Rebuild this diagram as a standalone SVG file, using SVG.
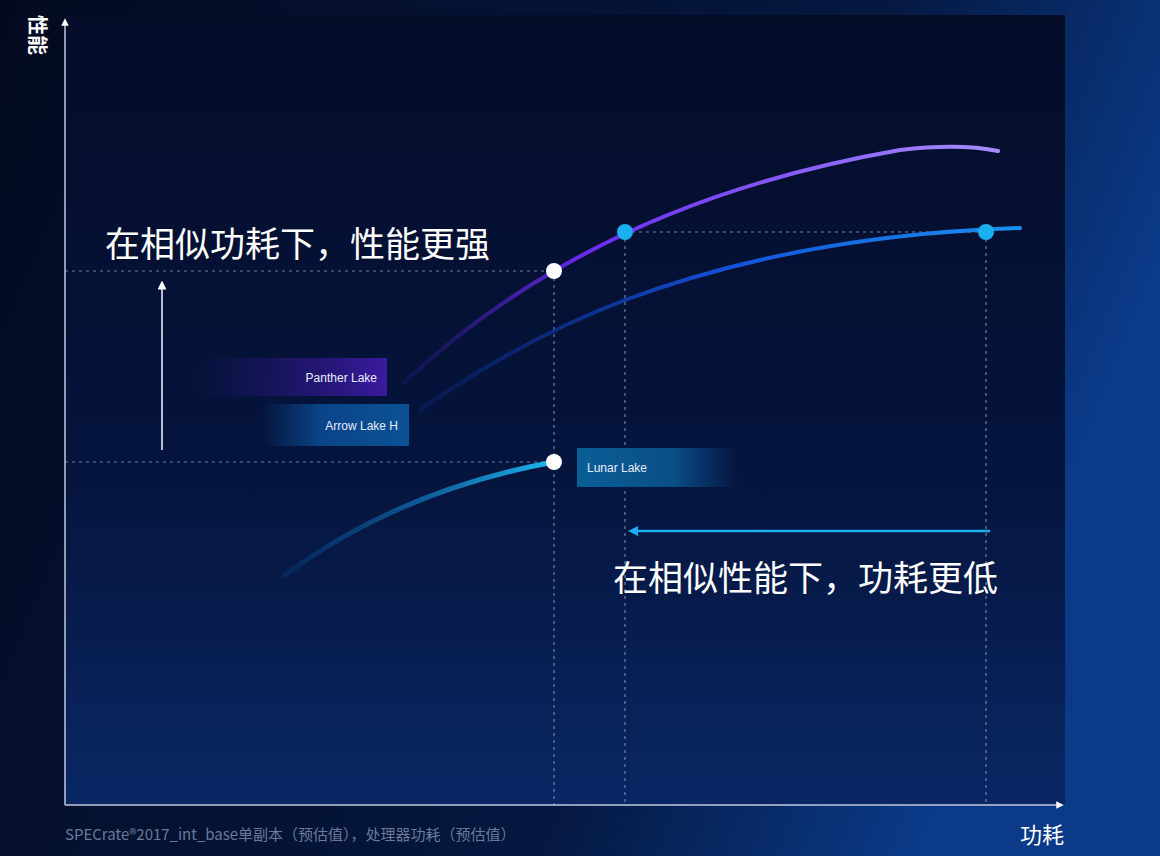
<svg xmlns="http://www.w3.org/2000/svg" width="1160" height="856" viewBox="0 0 1160 856">
<defs>
<linearGradient id="bg" x1="0" y1="0" x2="1" y2="0.3"><stop offset="0" stop-color="#030a20"/><stop offset="0.7" stop-color="#051840"/><stop offset="1" stop-color="#0a3a88"/></linearGradient>
<linearGradient id="plot" x1="0" y1="0" x2="0" y2="1"><stop offset="0" stop-color="#040c28"/><stop offset="0.6" stop-color="#05153e"/><stop offset="1" stop-color="#0a2764"/></linearGradient>
<linearGradient id="gP" x1="405" y1="0" x2="998" y2="0" gradientUnits="userSpaceOnUse"><stop offset="0" stop-color="#3a1a9a" stop-opacity="0.2"/><stop offset="0.3" stop-color="#6a2af0"/><stop offset="1" stop-color="#a58cff"/></linearGradient>
<linearGradient id="gA" x1="420" y1="0" x2="1020" y2="0" gradientUnits="userSpaceOnUse"><stop offset="0" stop-color="#0a2a8a" stop-opacity="0.3"/><stop offset="0.5" stop-color="#1450d8"/><stop offset="1" stop-color="#1a90f0"/></linearGradient>
<linearGradient id="gL" x1="285" y1="0" x2="554" y2="0" gradientUnits="userSpaceOnUse"><stop offset="0" stop-color="#0a5ab0" stop-opacity="0.2"/><stop offset="1" stop-color="#20b8f5"/></linearGradient>
<linearGradient id="bP" x1="0" y1="0" x2="1" y2="0"><stop offset="0" stop-color="#2a1480" stop-opacity="0"/><stop offset="1" stop-color="#3a1a9e"/></linearGradient>
<linearGradient id="bA" x1="0" y1="0" x2="1" y2="0"><stop offset="0" stop-color="#0a4488" stop-opacity="0"/><stop offset="0.4" stop-color="#0a4488"/><stop offset="1" stop-color="#0b5294"/></linearGradient>
<linearGradient id="bL" x1="0" y1="0" x2="1" y2="0"><stop offset="0" stop-color="#0a5e96"/><stop offset="0.6" stop-color="#0a4e86"/><stop offset="1" stop-color="#0a4080" stop-opacity="0"/></linearGradient>
<marker id="ah" viewBox="0 0 10 10" refX="5" refY="5" markerWidth="5" markerHeight="5" orient="auto"><path d="M0,0L10,5L0,10z" fill="#ffffff"/></marker>
<marker id="ahc" viewBox="0 0 10 10" refX="5" refY="5" markerWidth="4" markerHeight="4" orient="auto"><path d="M0,0L10,5L0,10z" fill="#1ab0f0"/></marker>
<style>
.dash{stroke:#8a9ab8;stroke-width:1.2;stroke-dasharray:3 4;fill:none;opacity:0.8}
.lbl{font-family:"Liberation Sans",Arial,sans-serif;font-size:12px;fill:#e8ecff}
.big{font-family:"Noto Sans CJK SC",sans-serif;font-size:35px;fill:#ffffff}
</style>
</defs>
<rect width="1160" height="856" fill="url(#bg)"/>
<rect x="65" y="15" width="1000" height="790" fill="url(#plot)"/>
<g id="grid">
<path class="dash" d="M65,271H554M65,462H554M625,232H986M554,271V805M625,232V805M986,232V805"/>
</g>
<g id="axes">
<line x1="65" y1="805" x2="65" y2="22" stroke="#c0c8e0" stroke-width="1.5" marker-end="url(#ah)"/>
<line x1="65" y1="805" x2="1060" y2="805" stroke="#c0c8e0" stroke-width="1.5" marker-end="url(#ah)"/>
<text transform="translate(30,15) rotate(90)" font-family="Noto Sans CJK SC,sans-serif" font-size="20" font-weight="bold" fill="#ffffff">性能</text>
<text x="1020" y="843" font-family="Noto Sans CJK SC,sans-serif" font-size="22" fill="#ffffff">功耗</text>
<text x="65" y="840" font-family="Noto Sans CJK SC,sans-serif" font-size="15" fill="#6a7a98">SPECrate®2017_int_base单副本（预估值），处理器功耗（预估值）</text>
</g>
<g id="connectors">
<line x1="162" y1="450" x2="162" y2="285" stroke="#c8d0e8" stroke-width="1.8" marker-end="url(#ah)"/>
<line x1="990" y1="531" x2="633" y2="531" stroke="#1ab0f0" stroke-width="2.5" marker-end="url(#ahc)"/>
</g>
<g id="curves" fill="none" stroke-linecap="round">
<path id="panther-curve" d="M405,382 Q470,320 554,271 Q700,185 900,150 Q960,143 998,151" stroke="url(#gP)" stroke-width="4"/>
<path id="arrow-curve" d="M420,410 Q520,340 625,300 Q800,235 1020,228" stroke="url(#gA)" stroke-width="4"/>
<path id="lunar-curve" d="M285,575 Q400,490 554,462" stroke="url(#gL)" stroke-width="5"/>
</g>
<g id="points">
<circle cx="554" cy="271" r="8" fill="#ffffff"/>
<circle cx="554" cy="462" r="8" fill="#ffffff"/>
<circle cx="625" cy="232" r="8" fill="#1ab0f0"/>
<circle cx="986" cy="232" r="8" fill="#1ab0f0"/>
</g>
<g id="panther-lake"><rect x="195" y="358" width="192" height="38" fill="url(#bP)"/><text class="lbl" x="377" y="382" text-anchor="end">Panther Lake</text></g>
<g id="arrow-lake-h"><rect x="262" y="404" width="147" height="42" fill="url(#bA)"/><text class="lbl" x="398" y="430" text-anchor="end">Arrow Lake H</text></g>
<g id="lunar-lake"><rect x="577" y="448" width="163" height="39" fill="url(#bL)"/><text class="lbl" x="587" y="472">Lunar Lake</text></g>
<g id="notes">
<text class="big" x="105" y="257">在相似功耗下，性能更强</text>
<text class="big" x="613" y="591">在相似性能下，功耗更低</text>
</g>
</svg>
